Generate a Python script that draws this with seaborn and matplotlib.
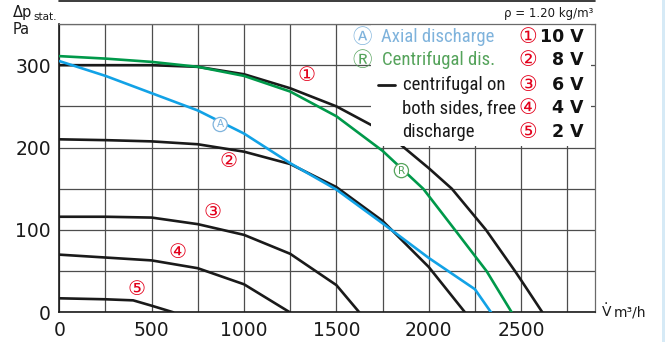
import numpy as np
import pandas as pd
import matplotlib
matplotlib.use("Agg")
import matplotlib.pyplot as plt
import seaborn as sns
from matplotlib import font_manager as fm
from matplotlib.patches import Rectangle
from matplotlib.lines import Line2D

# fan curves (flow m3/h, static pressure Pa)
flow_10v = [0, 250, 500, 750, 1000, 1250, 1500, 1700, 1850, 2000, 2125, 2310, 2467, 2500, 2615]
dp_10v = [300, 300, 300, 298, 289, 272, 250, 226, 203, 175, 150, 100, 50, 39, 0]

flow_8v = [0, 250, 500, 750, 1000, 1250, 1500, 1750, 2000, 2196]
dp_8v = [210, 209, 207.5, 204, 195, 180, 152, 111, 55, 0]

flow_6v = [0, 250, 500, 750, 1000, 1250, 1500, 1624]
dp_6v = [116, 116, 115, 107, 94, 71, 33, 0]

flow_4v = [0, 250, 500, 750, 1000, 1248]
dp_4v = [70, 66.5, 63, 53.5, 34, 0]

flow_2v = [0, 250, 400, 500, 617]
dp_2v = [17, 15.8, 14.5, 8, 0]

flow_axial = [0, 250, 500, 750, 1000, 1250, 1500, 1750, 2000, 2250, 2337]
dp_axial = [305, 287, 266, 245, 217, 181, 149, 108, 66, 28, 0]

flow_radial = [0, 250, 500, 750, 1000, 1250, 1500, 1750, 1970, 2142, 2313, 2449]
dp_radial = [311, 308, 304, 298, 287, 268, 238, 196, 150, 100, 50, 0]

x_ticks = [0, 500, 1000, 1500, 2000, 2500]
y_ticks = [0, 100, 200, 300]

volt_labels = ["10 V", "8 V", "6 V", "4 V", "2 V"]
circ_nums = ["①", "②", "③", "④", "⑤"]

black_df = pd.concat([
    pd.DataFrame({"flow": f, "dp": p, "curve": name})
    for f, p, name in [(flow_10v, dp_10v, "10V"), (flow_8v, dp_8v, "8V"),
                       (flow_6v, dp_6v, "6V"), (flow_4v, dp_4v, "4V"),
                       (flow_2v, dp_2v, "2V")]
])
axial_df = pd.DataFrame({"flow": flow_axial, "dp": dp_axial})
radial_df = pd.DataFrame({"flow": flow_radial, "dp": dp_radial})

RED = "#e3001b"
BLUE = "#12a2e6"
GREEN = "#00994a"
LBLUE = "#7fb3dc"
LGREEN = "#55a35b"
INK = "#1a1a1a"

sns.set_style("white")
plt.rcParams["font.family"] = ["DejaVu Sans", "Noto Sans CJK JP"]
SYM = ["DejaVu Sans", "Noto Sans CJK JP"]

# a narrow face for the legend wording (condensed DejaVu if nothing better)
installed = {f.name for f in fm.fontManager.ttflist}
narrow = next((n for n in ["Roboto Condensed", "Archivo Narrow", "PT Sans Narrow",
                           "Liberation Sans Narrow", "Open Sans Condensed"] if n in installed), None)
if narrow:
    NARROW = dict(family=[narrow, "DejaVu Sans"])
else:
    NARROW = dict(family=["DejaVu Sans"], stretch="condensed")

W, H = 665, 342
fig = plt.figure(figsize=(W / 100, H / 100), dpi=100)
ax = fig.add_axes([59.3 / W, 1 - 312.3 / H, (595 - 59.3) / W, (312.3 - 24) / H])

# size the legend font so "Axial discharge" spans ~114 px like the original
probe = fig.text(0, 0, "Axial discharge", fontsize=14, **NARROW)
pw = probe.get_window_extent(renderer=fig.canvas.get_renderer()).width
probe.remove()
LEG_FS = 14 * 114 / pw


def fx(px):
    return px / W


def fy(py):
    return 1 - py / H


# black curves (one per voltage)
sns.lineplot(data=black_df, x="flow", y="dp", units="curve", estimator=None, sort=False,
             color=INK, linewidth=1.9, ax=ax, zorder=2)

# white panel behind the legend text
ax.add_patch(Rectangle((1690, 202), 1190, 147, facecolor="white", edgecolor="none", zorder=2.5))

sns.lineplot(data=axial_df, x="flow", y="dp", estimator=None, sort=False,
             color=BLUE, linewidth=1.9, ax=ax, zorder=3)
sns.lineplot(data=radial_df, x="flow", y="dp", estimator=None, sort=False,
             color=GREEN, linewidth=1.9, ax=ax, zorder=3)

ax.set_xlim(0, 2900)
ax.set_ylim(0, 350)
ax.set_xticks(x_ticks)
ax.set_yticks(y_ticks)
ax.set_xticks(np.arange(0, 2900, 250), minor=True)
ax.set_yticks(np.arange(0, 351, 50), minor=True)
ax.grid(which="both", color="#4d4d4d", linewidth=0.9, zorder=1)
ax.set_axisbelow(True)
ax.tick_params(which="major", direction="out", length=4, width=1, labelsize=13.5,
               colors=INK, pad=2)
ax.tick_params(which="minor", length=0)
ax.set_xlabel("")
ax.set_ylabel("")
for s in ["left", "bottom"]:
    ax.spines[s].set_color(INK)
    ax.spines[s].set_linewidth(1.2)
for s in ["top", "right"]:
    ax.spines[s].set_color("#6a6a6a")
    ax.spines[s].set_linewidth(0.9)

# circled voltage labels near curves
label_pos = [(1337, 287), (914, 183), (828, 121), (638, 73), (420, 28)]
for (lx, ly), c in zip(label_pos, circ_nums):
    ax.text(lx, ly, c, color=RED, fontsize=14.5, ha="center", va="center", family=SYM, zorder=4)

ax.text(871, 228, "A", color=LBLUE, fontsize=7.5, ha="center", va="center", zorder=5,
        bbox=dict(boxstyle="circle,pad=0.2", fc="white", ec=LBLUE, lw=0.9))
ax.text(1852, 172, "R", color=LGREEN, fontsize=7.5, ha="center", va="center", zorder=5,
        bbox=dict(boxstyle="circle,pad=0.2", fc="white", ec=LGREEN, lw=0.9))

# axis captions
fig.text(fx(13), fy(16.5), "Δp", fontsize=10.5, va="baseline", color=INK)
fig.text(fx(33.5), fy(20), "stat.", fontsize=7.5, va="baseline", color=INK)
fig.text(fx(13), fy(34.5), "Pa", fontsize=10.5, va="baseline", color=INK)
fig.text(fx(602), fy(312), "V", fontsize=10, va="center", color=INK)
fig.text(fx(605.5), fy(304), "·", fontsize=10, ha="center", va="center", color=INK)
fig.text(fx(614), fy(312), "m³/h", fontsize=10, va="center", color=INK)
fig.text(fx(593), fy(13), "ρ = 1.20 kg/m³", fontsize=8.5, ha="right", va="center", color=INK)

# legend block
rows_y = [37.3, 60, 85, 108.3, 131.7]
fig.text(fx(361.7), fy(rows_y[0]), "Ⓐ", color=LBLUE, fontsize=14, ha="center", va="center", family=SYM)
fig.text(fx(380.7), fy(rows_y[0]), "Axial discharge", color=LBLUE, fontsize=LEG_FS, va="center", **NARROW)
fig.text(fx(361.7), fy(rows_y[1]), "Ⓡ", color=LGREEN, fontsize=14, ha="center", va="center", family=SYM)
fig.text(fx(381.7), fy(rows_y[1]), "Centrifugal dis.", color=LGREEN, fontsize=LEG_FS, va="center", **NARROW)
fig.add_artist(Line2D([fx(378), fx(395)], [fy(rows_y[2]), fy(rows_y[2])], color=INK, lw=2))
fig.text(fx(403.3), fy(rows_y[2]), "centrifugal on", color=INK, fontsize=LEG_FS, va="center", **NARROW)
fig.text(fx(401.7), fy(rows_y[3]), "both sides, free", color=INK, fontsize=LEG_FS, va="center", **NARROW)
fig.text(fx(401.7), fy(rows_y[4]), "discharge", color=INK, fontsize=LEG_FS, va="center", **NARROW)
for yy, c, v in zip(rows_y, circ_nums, volt_labels):
    fig.text(fx(527.5), fy(yy), c, color=RED, fontsize=15, ha="center", va="center", family=SYM)
    fig.text(fx(584), fy(yy), v, color="#111111", fontsize=12.5, fontweight="bold", ha="right", va="center")

# light blue page edge and cut-off rule at the top
fig.patches.append(Rectangle((fx(662), 0), 3 / W, 1, transform=fig.transFigure,
                             facecolor="#d6eaf6", edgecolor="none"))
fig.add_artist(Line2D([fx(59), fx(595)], [fy(0.5), fy(0.5)], color=INK, lw=1.2))

fig.savefig("out.png", dpi=100)
